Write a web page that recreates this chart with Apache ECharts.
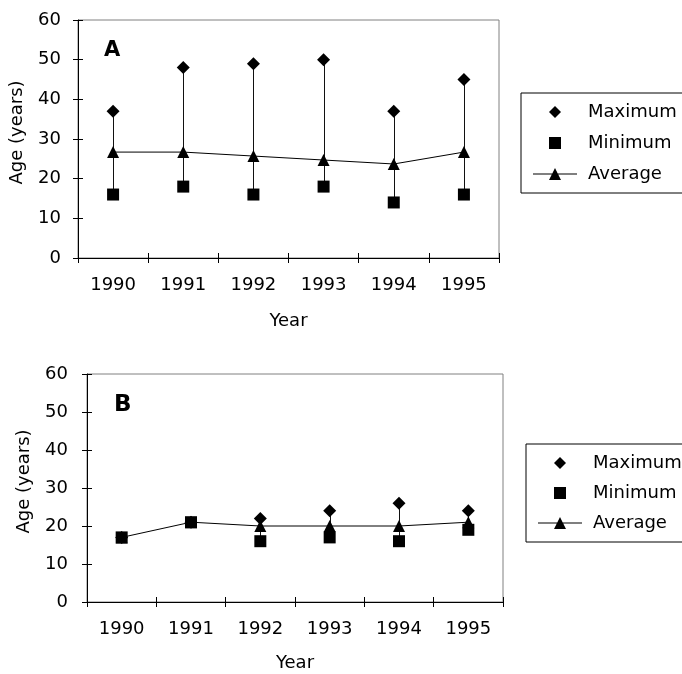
<!DOCTYPE html>
<html>
<head>
<meta charset="utf-8">
<script src="https://cdn.jsdelivr.net/npm/echarts@6/dist/echarts.min.js"></script>
<style>
html,body{margin:0;padding:0;background:#fff;}
#chart{width:682px;height:674px;}
</style>
</head>
<body>
<div id="chart"></div>
<script>
// ---- data ----
const years = ['1990', '1991', '1992', '1993', '1994', '1995'];
const seriesNames = ['Maximum', 'Minimum', 'Average'];
// Panel A
const maxA = [37, 48, 49, 50, 37, 45];
const minA = [16, 18, 16, 18, 14, 16];
const avgA = [26.7, 26.7, 25.7, 24.7, 23.7, 26.7];
// Panel B
const maxB = [17, 21, 22, 24, 26, 24];
const minB = [17, 21, 16, 17, 16, 19];
const avgB = [17, 21, 20, 20, 20, 21];
// axis
const yMin = 0, yMax = 60, yStep = 10;
const panelLabels = ['A', 'B'];
const yAxisName = 'Age (years)';
const xAxisName = 'Year';

const FONT = 'DejaVu Sans';
const FS = 18;
const BLACK = '#000';

function hiLo(maxArr, minArr) {
  return years.map((y, i) => [i, minArr[i], maxArr[i]]);
}

function xAxes(grid, nameGap) {
  return [
    {
      type: 'category', data: years, gridIndex: grid, position: 'bottom',
      axisLine: { lineStyle: { color: BLACK, width: 1 } },
      axisTick: { show: true, inside: false, length: 5, lineStyle: { color: BLACK } },
      axisLabel: { color: BLACK, fontFamily: FONT, fontSize: FS, margin: 18 },
      name: xAxisName, nameLocation: 'middle', nameGap: nameGap,
      nameTextStyle: { color: BLACK, fontFamily: FONT, fontSize: FS },
      splitLine: { show: false }
    },
    {
      type: 'category', data: years, gridIndex: grid, position: 'bottom',
      axisLine: { show: false },
      axisTick: { show: true, inside: true, length: 5, lineStyle: { color: BLACK } },
      axisLabel: { show: false }, splitLine: { show: false }
    }
  ];
}
function yAxes(grid, nameGap, labelMargin) {
  return [
    {
      type: 'value', min: yMin, max: yMax, interval: yStep, gridIndex: grid, position: 'left',
      axisLine: { show: true, lineStyle: { color: BLACK, width: 1 } },
      axisTick: { show: true, inside: false, length: 5, lineStyle: { color: BLACK } },
      axisLabel: { color: BLACK, fontFamily: FONT, fontSize: FS, margin: labelMargin },
      splitLine: { show: false },
      name: yAxisName, nameLocation: 'middle', nameGap: nameGap, nameRotate: 90,
      nameTextStyle: { color: BLACK, fontFamily: FONT, fontSize: FS, padding: [0, 0, 0, 13] }
    },
    {
      type: 'value', min: yMin, max: yMax, interval: yStep, gridIndex: grid, position: 'left',
      axisLine: { show: false },
      axisTick: { show: true, inside: true, length: 5, lineStyle: { color: BLACK } },
      axisLabel: { show: false }, splitLine: { show: false }
    }
  ];
}

function hiLoSeries(xi, yi, maxArr, minArr) {
  return {
    type: 'custom', name: 'hilo', xAxisIndex: xi, yAxisIndex: yi, z: 1,
    data: hiLo(maxArr, minArr),
    encode: { x: 0, y: [1, 2] },
    renderItem: function (params, api) {
      const p1 = api.coord([api.value(0), api.value(1)]);
      const p2 = api.coord([api.value(0), api.value(2)]);
      return {
        type: 'line',
        shape: { x1: Math.round(p1[0]) + 0.5, y1: p1[1], x2: Math.round(p2[0]) + 0.5, y2: p2[1] },
        style: { stroke: '#111', lineWidth: 1 }
      };
    },
    silent: true
  };
}
function panelSeries(xi, yi, maxArr, minArr, avgArr) {
  return [
    hiLoSeries(xi, yi, maxArr, minArr),
    {
      type: 'line', name: seriesNames[2], xAxisIndex: xi, yAxisIndex: yi, data: avgArr, z: 2,
      symbol: 'triangle', symbolSize: 12, showSymbol: true, showAllSymbol: true,
      lineStyle: { color: BLACK, width: 1 }, itemStyle: { color: BLACK }
    },
    {
      type: 'scatter', name: seriesNames[0], xAxisIndex: xi, yAxisIndex: yi, data: maxArr, z: 3,
      symbol: 'diamond', symbolSize: 13, itemStyle: { color: BLACK, opacity: 1 }
    },
    {
      type: 'scatter', name: seriesNames[1], xAxisIndex: xi, yAxisIndex: yi, data: minArr, z: 4,
      symbol: 'rect', symbolSize: 12, itemStyle: { color: BLACK, opacity: 1 }
    }
  ];
}

const legendIcons = [
  'path://M6 0L12 6L6 12L0 6Z',
  'path://M0 0H12V12H0Z',
  'path://M0 5.5H44V6.5H0Z M16 12L22 0L28 12Z'
];

function legendAt(left, top, gap) {
  return {
    data: seriesNames.map((n, i) => ({ name: n, icon: legendIcons[i] })),
    orient: 'vertical', left: left, top: top,
    borderColor: BLACK, borderWidth: 1, borderRadius: 0,
    padding: [10, 12, 10, 12], itemGap: gap, itemWidth: 44, itemHeight: 12,
    symbolKeepAspect: true,
    textStyle: { color: BLACK, fontFamily: FONT, fontSize: FS, padding: [0, 0, 0, 6] },
    selectedMode: false
  };
}

const chart = echarts.init(document.getElementById('chart'), null, { renderer: 'canvas' });
chart.setOption({
  animation: false,
  backgroundColor: '#fff',
  title: [
    { text: panelLabels[0], left: 104, top: 40, padding: 0, textStyle: { fontFamily: FONT, fontSize: 21, fontWeight: 'bold', color: BLACK } },
    { text: panelLabels[1], left: 114, top: 394, padding: 0, textStyle: { fontFamily: FONT, fontSize: 23, fontWeight: 'bold', color: BLACK } }
  ],
  grid: [
    { left: 77, top: 20, width: 422, height: 238, show: true, borderColor: '#808080', borderWidth: 1, backgroundColor: 'transparent' },
    { left: 87, top: 374, width: 416, height: 228, show: true, borderColor: '#808080', borderWidth: 1, backgroundColor: 'transparent' }
  ],
  xAxis: [].concat(xAxes(0, 54), xAxes(1, 52)),
  yAxis: [].concat(yAxes(0, 52, 17), yAxes(1, 54, 19)),
  legend: [legendAt(521, 93, 13), legendAt(526, 444, 12)],
  series: [].concat(
    panelSeries(0, 0, maxA, minA, avgA),
    panelSeries(2, 2, maxB, minB, avgB)
  )
});
</script>
</body>
</html>
